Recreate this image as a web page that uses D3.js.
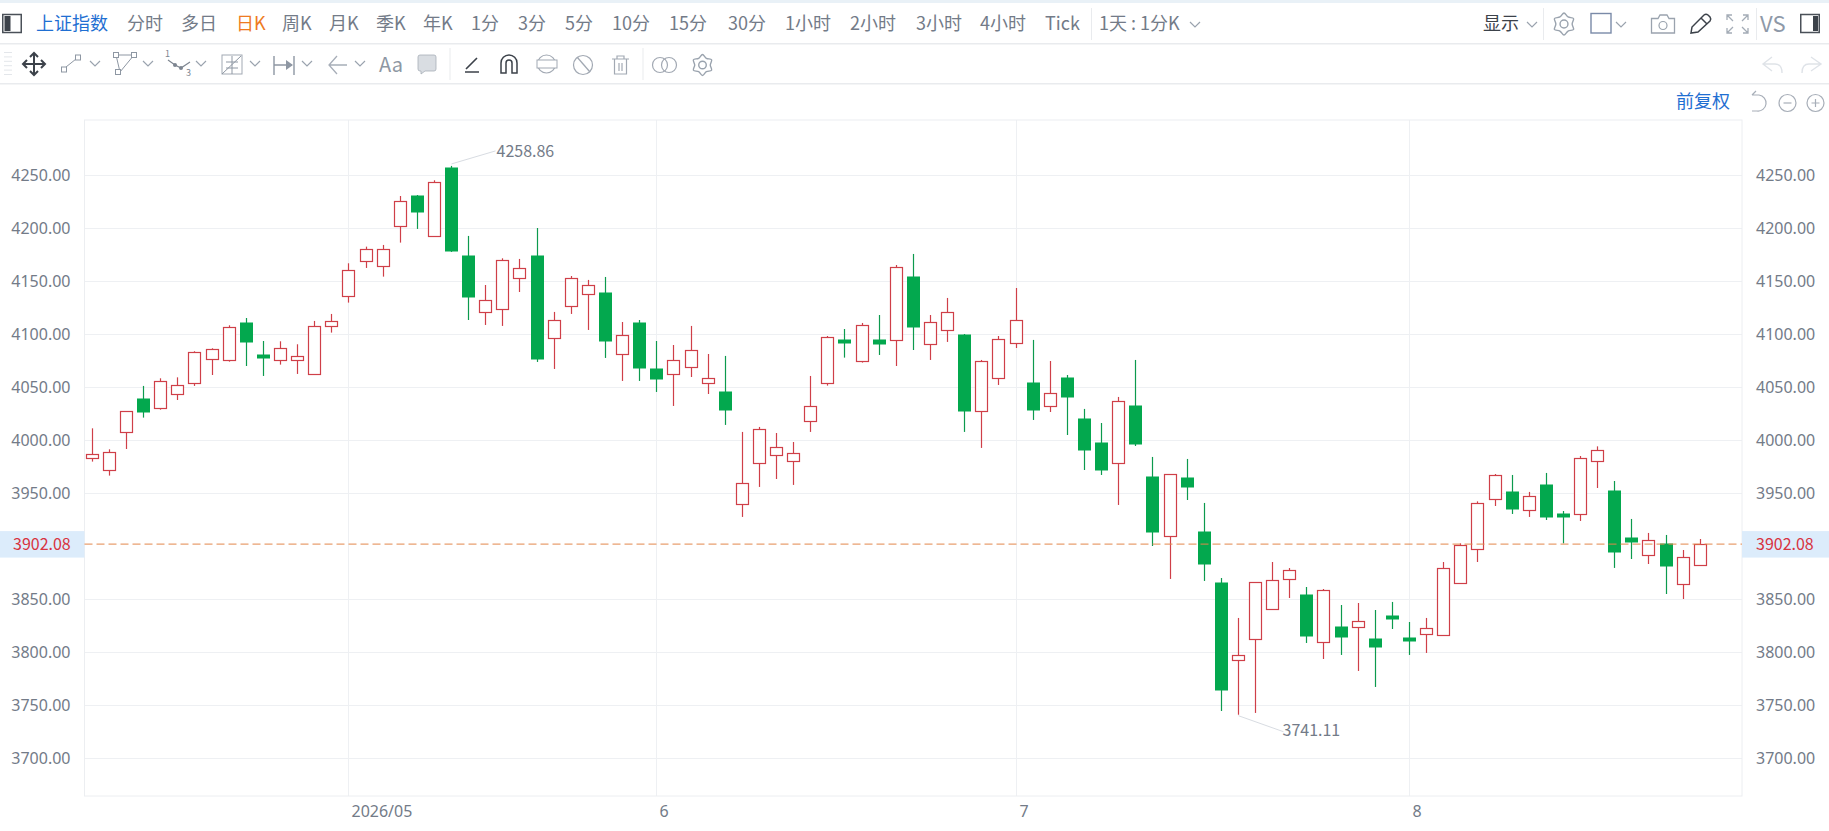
<!DOCTYPE html>
<html>
<head>
<meta charset="utf-8">
<style>
  html, body { margin: 0; padding: 0; background: #fff; overflow: hidden; }
  text { font-family: "Noto Sans CJK SC", "Noto Sans", sans-serif; }
  .axis path, .axis line { display: none; }
  .axis text { font-size: 16px; fill: #737b88; font-family: "Noto Sans", sans-serif; }
</style>
<script src="https://cdn.jsdelivr.net/npm/d3@7"></script>
</head>
<body>
<div id="chart"></div>
<script>
// daily candles
const opens = [3982.7,3971.7,4007.2,4039.9,4029.9,4043.1,4053.5,4076.4,4075.2,4111.6,4081.4,4075.2,4075.2,4061.9,4107.2,4135.5,4168.6,4163.8,4201.6,4230.5,4192.1,4256.9,4174.8,4120.4,4123.3,4152.5,4174.8,4095.9,4126.1,4137.4,4139.9,4080.8,4111.6,4068.2,4061.9,4068.6,4053.5,4045.6,3939.3,3978.0,3985.5,3979.9,4017.6,4053.5,4094.7,4074.2,4094.7,4094.0,4154.1,4090.2,4103.5,4099.4,4027.4,4058.2,4091.2,4055.0,4031.8,4059.7,4020.1,3997.5,3978.0,4032.4,3966.3,3909.1,3964.5,3913.5,3866.3,3792.1,3811.9,3840.2,3868.5,3854.1,3809.1,3823.9,3823.3,3812.6,3834.3,3813.5,3816.7,3815.7,3864.8,3896.8,3944.0,3951.3,3933.6,3957.9,3930.5,3929.9,3979.9,3953.1,3907.9,3891.2,3902.8,3863.8,3881.8];
const closes = [3986.8,3988.7,4027.4,4027.0,4055.7,4051.9,4083.0,4085.8,4106.6,4093.1,4077.7,4086.8,4079.2,4107.5,4112.3,4160.4,4180.2,4180.2,4225.5,4214.8,4243.4,4177.7,4135.2,4132.1,4169.8,4162.3,4076.7,4113.2,4152.8,4146.2,4093.7,4099.1,4068.2,4057.9,4075.5,4084.9,4058.5,4027.7,3959.4,4010.4,3993.4,3987.7,4032.1,4097.2,4090.9,4108.5,4089.9,4163.2,4106.0,4111.3,4120.8,4026.7,4074.5,4095.3,4113.2,4028.6,4044.3,4040.9,3989.9,3971.1,4036.8,3995.6,3913.5,3967.9,3955.0,3882.4,3764.5,3797.2,3865.4,3867.9,3877.4,3814.5,3858.5,3813.5,3829.2,3804.1,3830.5,3809.7,3822.6,3879.2,3900.9,3940.6,3967.0,3934.3,3947.2,3926.7,3926.7,3983.0,3990.6,3894.6,3903.1,3905.7,3881.4,3889.6,3902.08];
const highs = [4011.3,3991.5,4027.4,4051.3,4058.5,4059.4,4084.0,4086.8,4108.5,4115.4,4093.7,4093.4,4090.6,4112.6,4119.2,4167.0,4182.7,4184.3,4230.5,4231.4,4245.3,4258.86,4192.8,4146.5,4171.7,4171.1,4200.3,4121.1,4155.0,4151.3,4154.1,4111.6,4113.5,4093.7,4089.9,4107.9,4081.4,4079.6,4007.9,4012.6,4006.9,3998.4,4060.7,4098.4,4105.0,4110.7,4118.2,4165.4,4175.8,4118.2,4134.3,4100.3,4075.8,4098.4,4143.7,4094.7,4074.8,4061.6,4029.6,4016.3,4040.9,4075.8,3984.3,3967.9,3982.4,3940.9,3870.1,3832.4,3866.3,3885.2,3879.5,3861.6,3859.7,3844.6,3846.5,3839.9,3847.5,3828.6,3832.4,3885.2,3902.8,3942.4,3968.2,3967.3,3951.3,3969.2,3933.3,3985.2,3994.3,3961.6,3925.8,3912.6,3910.7,3896.5,3906.9];
const lows = [3979.9,3966.7,3991.8,4021.4,4028.9,4038.0,4051.3,4061.6,4074.2,4070.1,4060.7,4071.4,4062.6,4061.9,4101.6,4129.9,4162.6,4154.4,4186.5,4199.4,4192.1,4177.7,4113.5,4108.8,4107.9,4139.9,4073.9,4067.3,4119.2,4104.1,4077.7,4056.0,4056.0,4045.6,4032.4,4059.7,4043.7,4014.5,3927.7,3956.0,3963.5,3957.9,4007.9,4051.6,4078.0,4073.3,4080.5,4070.1,4085.2,4075.8,4092.8,4007.9,3992.8,4052.2,4087.1,4019.2,4026.7,4005.0,3972.0,3967.3,3939.0,3994.6,3900.3,3869.2,3943.7,3867.3,3744.6,3741.11,3742.8,3840.2,3851.2,3808.8,3793.7,3797.5,3782.4,3767.3,3822.0,3797.5,3799.4,3815.7,3864.8,3885.2,3938.0,3930.5,3927.7,3924.8,3902.8,3923.9,3955.0,3879.6,3888.0,3883.3,3855.0,3850.3,3881.8];

const priceTicks = [3700, 3750, 3800, 3850, 3950, 4000, 4050, 4100, 4150, 4200, 4250];
const monthIndex = [15, 33, 54, 77];
const monthLabels = ['2026/05', '6', '7', '8'];
const lastPrice = 3902.08;

const periodLabels = ['分时','多日','日K','周K','月K','季K','年K','1分','3分','5分','10分','15分','30分','1小时','2小时','3小时','4小时','Tick'];
const periodX = [127,181,236,282,329,376,423,471,518,565,612,669,728,785,850,916,980,1045];

const width = 1829, height = 831;
const plot = { left: 84.5, right: 1742, top: 120, bottom: 796 };

const svg = d3.select('#chart').append('svg')
    .attr('width', width)
    .attr('height', height)
    .style('display', 'block');

const x = d3.scalePoint().domain(d3.range(opens.length)).range([92.3, 1700.3]);
const y = d3.scaleLinear().domain([3700, 4250]).range([758.3, 175.3]);

const snap = v => Math.floor(v) + 0.5;
const red = '#cf3f48', green = '#03a84e', wickGreen = '#0c9a4e';
const gridColor = '#eef0f3';

// ---- toolbars ----
const bar = svg.append('g');
bar.append('rect').attr('width', width).attr('height', 3).attr('fill', '#e9f1f7');
bar.append('rect').attr('y', 43).attr('width', width).attr('height', 1.5).attr('fill', '#e9ebee');
bar.append('rect').attr('y', 83).attr('width', width).attr('height', 1.5).attr('fill', '#e9ebee');

function label(str, px, py, size, color, anchor) {
    return bar.append('text').attr('x', px).attr('y', py).attr('dy', '0.36em')
        .attr('text-anchor', anchor || 'start')
        .attr('font-size', size).attr('fill', color).text(str);
}
function stroke(d, color, w) {
    return bar.append('path').attr('d', d).attr('fill', 'none')
        .attr('stroke', color).attr('stroke-width', w || 1.3);
}
function caret(cx, cy) {
    stroke(`M${cx - 5},${cy - 2} L${cx},${cy + 3} L${cx + 5},${cy - 2}`, '#9aa3ae', 1.2);
}
function vline(px, y0, y1) {
    bar.append('rect').attr('x', px).attr('y', y0).attr('width', 1).attr('height', y1 - y0).attr('fill', '#e9ebee');
}
function gear(cx, cy, r) {
    const pts = d3.range(12).map(i => [i * Math.PI / 6, i % 2 ? r * 0.74 : r]);
    const d = d3.lineRadial().curve(d3.curveCatmullRomClosed)(pts);
    stroke(d, '#9aa3ae', 1.4).attr('transform', `translate(${cx},${cy})`);
    bar.append('circle').attr('cx', cx).attr('cy', cy).attr('r', r * 0.36)
        .attr('fill', 'none').attr('stroke', '#9aa3ae').attr('stroke-width', 1.4);
}
function ring(cx, cy, r, color) {
    bar.append('circle').attr('cx', cx).attr('cy', cy).attr('r', r)
        .attr('fill', 'none').attr('stroke', color).attr('stroke-width', 1.2);
}

// first row
bar.append('rect').attr('x', 2.75).attr('y', 14.5).attr('width', 18.5).attr('height', 18).attr('fill', '#fff').attr('stroke', '#4a5058').attr('stroke-width', 1.5);
bar.append('rect').attr('x', 4.5).attr('y', 16).attr('width', 6).attr('height', 15).attr('fill', '#3c424a');
label('上证指数', 36, 24, 18, '#1f6fd2');
periodLabels.forEach((p, i) => {
    label(p, periodX[i], 24, 18, p === '日K' ? '#ee7b22' : '#737b88');
});
vline(1091, 8, 40);
label('1天 : 1分K', 1099, 24, 18, '#737b88');
caret(1195, 24);

label('显示', 1483, 24, 18, '#3c424a');
caret(1532, 24);
vline(1543, 8, 40);
gear(1564, 24, 11);
bar.append('rect').attr('x', 1591).attr('y', 13.5).attr('width', 20).attr('height', 19.5).attr('fill', '#fff').attr('stroke', '#7a8aa8').attr('stroke-width', 1.4);
caret(1621, 24);
stroke('M1651.5,18.5 H1658 L1660,15 H1667 L1669,18.5 H1674.5 V33 H1651.5 Z', '#9aa3ae');
ring(1663, 25.5, 4, '#9aa3ae');
stroke('M1691,33 L1692,27 L1704,15 Q1706,13.5 1708,15 L1710,17 Q1711.5,19 1710,21 L1698,32 Z M1701,18 L1707,24', '#3c424a', 1.5);
stroke('M1727,20 V15 H1732 M1727,15 L1733,21 M1748,20 V15 H1743 M1748,15 L1742,21 M1727,28 V33 H1732 M1727,33 L1733,27 M1748,28 V33 H1743 M1748,33 L1742,27', '#a4acb6');
vline(1756, 8, 40);
label('VS', 1760, 24, 22, '#8e99a8').attr('font-family', '"Noto Sans", sans-serif');
bar.append('rect').attr('x', 1800.75).attr('y', 14.5).attr('width', 18.5).attr('height', 18).attr('fill', '#fff').attr('stroke', '#4a5058').attr('stroke-width', 1.5);
bar.append('rect').attr('x', 1813).attr('y', 16).attr('width', 5).attr('height', 15).attr('fill', '#3c424a');

// second row
d3.range(6).forEach(i => bar.append('rect').attr('x', 4).attr('y', 52 + i * 4.4).attr('width', 8).attr('height', 1).attr('fill', '#e3e6ea'));
stroke('M34,53 V75 M23,64 H45 M30,57 L34,53 L38,57 M30,71 L34,75 L38,71 M27,60 L23,64 L27,68 M41,60 L45,64 L41,68', '#3c424a', 2);
bar.append('rect').attr('x', 61.5).attr('y', 67).attr('width', 5).attr('height', 5).attr('fill', 'none').attr('stroke', '#8e97a3');
bar.append('rect').attr('x', 75.5).attr('y', 55).attr('width', 5).attr('height', 5).attr('fill', 'none').attr('stroke', '#8e97a3');
stroke('M66,67 L76,59', '#8e97a3', 1);
caret(95, 63);
stroke('M116,55 H134 L120,72 Z', '#8e97a3', 1);
[[116, 55], [134, 55], [118, 72]].forEach(p => bar.append('rect').attr('x', p[0] - 2.5).attr('y', p[1] - 2.5).attr('width', 5).attr('height', 5).attr('fill', '#fff').attr('stroke', '#8e97a3'));
caret(148, 63);
stroke('M168,60 L175,65 L181,68 L190,62', '#7d8590', 1.2);
[[175, 65], [181, 68]].forEach(p => bar.append('circle').attr('cx', p[0]).attr('cy', p[1]).attr('r', 2).attr('fill', '#7d8590'));
label('1', 165, 54, 9, '#7d8590');
label('3', 186, 73, 9, '#7d8590');
caret(201, 63);
bar.append('rect').attr('x', 222).attr('y', 55).attr('width', 20).attr('height', 19).attr('fill', 'none').attr('stroke', '#a2a9b3');
stroke('M222,74 L241,56 M226,62 H238 M226,68 H238 M232,56 V74', '#8e97a3', 1);
caret(255, 63);
stroke('M274,56 V75 M294,56 V75 M274,65 H292', '#8e97a3', 1.4);
bar.append('path').attr('d', 'M286,60 L293,65 L286,70 Z').attr('fill', '#8e97a3');
caret(307, 63);
stroke('M347,65 H329 M337,56 L329,65 L337,74', '#a7aeb8', 1.3);
caret(360, 63);
label('Aa', 379, 65, 20, '#8e97a3').attr('font-family', '"Noto Sans", sans-serif');
bar.append('path').attr('d', 'M420,55 H434 Q436,55 436,57 V69 Q436,71 434,71 H425 L421,74 V71 H420 Q418,71 418,69 V57 Q418,55 420,55 Z')
    .attr('fill', '#d9dde2').attr('stroke', '#a7aeb8').attr('stroke-width', 0.8);
vline(449.5, 48, 80);
stroke('M465,72 H479 M466,69 L477,58', '#3c424a', 1.6);
stroke('M501,73 V63 A8,8 0 0 1 517,63 V73 H512 V63 A3,3 0 0 0 506,63 V73 Z', '#3c424a', 1.5);
ring(546.5, 64, 9, '#a2a9b3');
bar.append('rect').attr('x', 537).attr('y', 60).attr('width', 20).attr('height', 8).attr('fill', '#fff').attr('stroke', '#a2a9b3');
ring(583, 65, 9.5, '#a2a9b3');
stroke('M577,57 L590,72', '#a2a9b3', 1.3);
stroke('M612,59 H629 M617,59 V56 H624 V59 M614.5,59 V74 H626.5 V59 M619,63 V71 M622,63 V71', '#a2a9b3', 1.2);
vline(642.5, 48, 80);
ring(660, 65, 7.5, '#a2a9b3');
ring(669, 65, 7.5, '#a2a9b3');
gear(702.5, 65, 10.5);
stroke('M1772,57 L1763,64 L1772,71 M1763,64 H1775 Q1782,64 1782,73', '#dfe3e8', 1.4);
stroke('M1811,57 L1821,64 L1811,71 M1821,64 H1809 Q1802,64 1802,73', '#dfe3e8', 1.4);

// third row
label('前复权', 1676, 102, 18, '#1f6fd2');
stroke('M1752,95 H1759 A8,8 0 1 1 1757,111 H1752 M1752,95 L1756,91', '#a7aeb8', 1.2);
ring(1787.5, 103, 8.5, '#a7aeb8');
stroke('M1783.5,103 H1791.5', '#a7aeb8', 1.2);
ring(1815.5, 103, 8.5, '#a7aeb8');
stroke('M1811.5,103 H1819.5 M1815.5,99 V107', '#a7aeb8', 1.2);

// ---- plot frame and grid ----
const grid = svg.append('g');
grid.selectAll('line.h').data(priceTicks).join('line')
    .attr('x1', plot.left).attr('x2', plot.right)
    .attr('y1', d => snap(y(d))).attr('y2', d => snap(y(d)))
    .attr('stroke', gridColor);
grid.selectAll('line.v').data(monthIndex).join('line')
    .attr('class', 'v')
    .attr('x1', d => snap(x(d))).attr('x2', d => snap(x(d)))
    .attr('y1', plot.top).attr('y2', plot.bottom)
    .attr('stroke', gridColor);
grid.append('rect')
    .attr('x', plot.left).attr('y', plot.top)
    .attr('width', plot.right - plot.left).attr('height', plot.bottom - plot.top)
    .attr('fill', 'none').attr('stroke', '#eceef1');

// price tag background sits behind the axis labels
const lastY = y(lastPrice);
[[0, plot.left], [plot.right, width]].forEach(([a, b]) => {
    svg.append('rect').attr('x', a).attr('y', lastY - 13).attr('width', b - a).attr('height', 26.5).attr('fill', '#dcecfb');
});

// ---- axes ----
svg.append('g').attr('class', 'axis')
    .attr('transform', `translate(${plot.left - 14},0)`)
    .call(d3.axisLeft(y).tickValues(priceTicks).tickFormat(d3.format('.2f')).tickSize(0).tickPadding(0));
svg.append('g').attr('class', 'axis')
    .attr('transform', `translate(${plot.right + 14},0)`)
    .call(d3.axisRight(y).tickValues(priceTicks).tickFormat(d3.format('.2f')).tickSize(0).tickPadding(0));

svg.append('g').attr('class', 'axis')
    .selectAll('text').data(monthIndex).join('text')
    .attr('x', d => snap(x(d)) + 3)
    .attr('y', plot.bottom + 15)
    .attr('dy', '0.36em')
    .text((d, i) => monthLabels[i]);

// ---- candles ----
const candles = svg.append('g').selectAll('g')
    .data(d3.range(opens.length))
    .join('g')
    .attr('transform', i => `translate(${snap(x(i))},0)`);

candles.append('line')
    .attr('y1', i => y(highs[i])).attr('y2', i => y(lows[i]))
    .attr('stroke', i => closes[i] >= opens[i] ? red : wickGreen)
    .attr('stroke-width', 1.2);

candles.append('rect')
    .attr('x', i => closes[i] >= opens[i] ? -6 : -6.5)
    .attr('width', i => closes[i] >= opens[i] ? 12 : 13)
    .attr('y', i => snap(y(Math.max(opens[i], closes[i]))))
    .attr('height', i => Math.max(1, Math.round(Math.abs(y(opens[i]) - y(closes[i])))))
    .attr('fill', i => closes[i] >= opens[i] ? '#fff' : green)
    .attr('stroke', i => closes[i] >= opens[i] ? red : 'none')
    .attr('stroke-width', 1.2);

// last price line
svg.append('line')
    .attr('x1', plot.left).attr('x2', plot.right)
    .attr('y1', lastY).attr('y2', lastY)
    .attr('stroke', '#e2864a').attr('stroke-dasharray', '8,4');

[13, width - 73].forEach(px => {
    svg.append('text').attr('x', px).attr('y', lastY).attr('dy', '0.36em')
        .attr('font-size', 16).attr('font-family', '"Noto Sans", sans-serif')
        .attr('fill', '#d8333f').text(d3.format('.2f')(lastPrice));
});

// ---- high / low markers ----
const maxIdx = d3.maxIndex(highs), minIdx = d3.minIndex(lows);
[[maxIdx, highs[maxIdx], 44, -13, 1], [minIdx, lows[minIdx], 45, 16, -1]].forEach(([i, v, dx, dy, tweak]) => {
    const px = snap(x(i)), py = y(v) + (dy < 0 ? -2 : 1);
    svg.append('line').attr('x1', px).attr('y1', py).attr('x2', px + dx).attr('y2', py + dy)
        .attr('stroke', '#d8dce2');
    svg.append('text').attr('x', px + dx + tweak).attr('y', py + dy - 1 + (dy < 0 ? 1 : 0)).attr('dy', '0.36em')
        .attr('font-size', 16).attr('font-family', '"Noto Sans", sans-serif')
        .attr('fill', '#737b88').text(d3.format('.2f')(v));
});
</script>
</body>
</html>
